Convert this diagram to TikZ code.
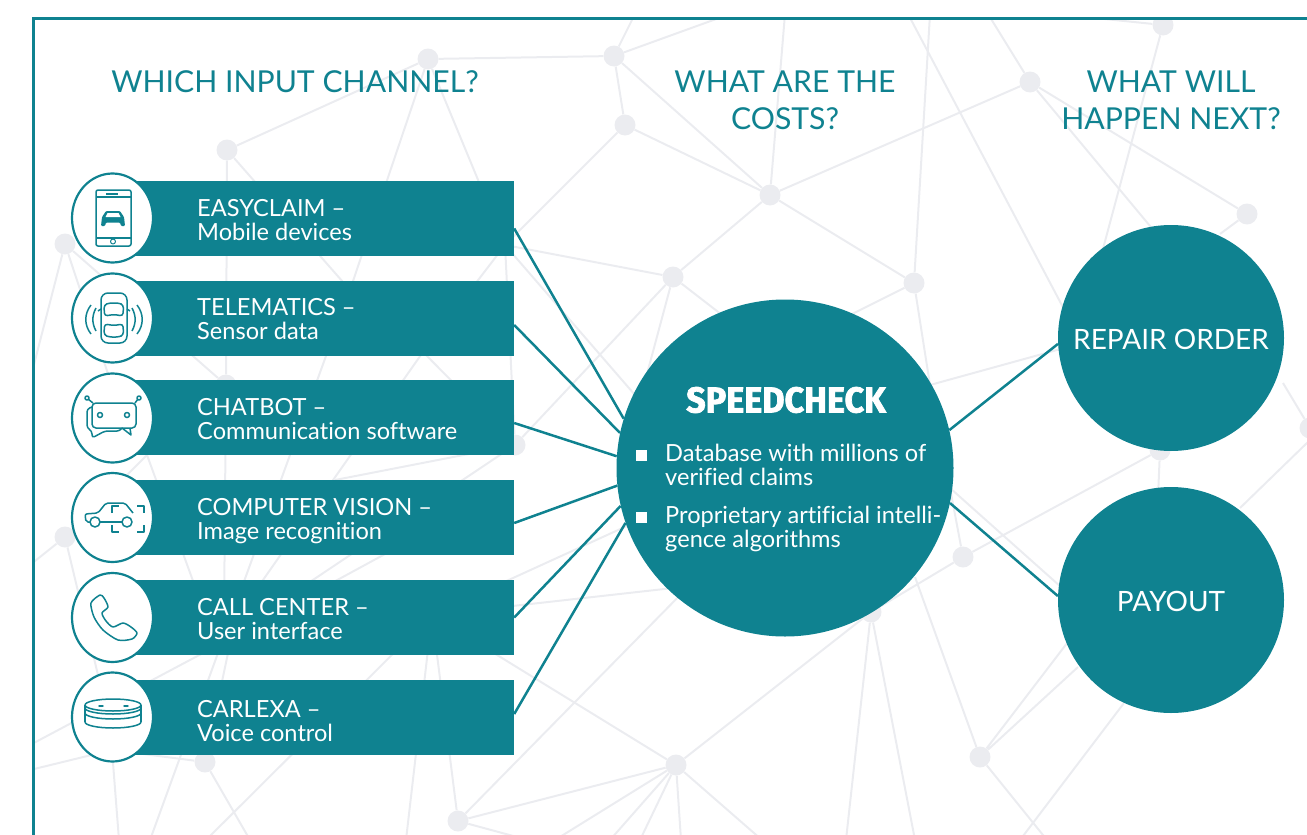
\documentclass[tikz,border=0pt]{standalone}
\usepackage{fontspec}
\setmainfont[Ligatures=NoCommon]{Lato}
\newfontfamily\speedfont[FakeStretch=0.95,FakeBold=2]{Fira Sans Bold}
\usetikzlibrary{shapes.geometric, positioning}
\definecolor{teal1}{HTML}{0F8290}
\definecolor{netgray}{HTML}{EBECF0}
\tikzset{
  net/.style={line width=2pt, color=netgray},
  netdot/.style={circle, fill=netgray, inner sep=0pt, minimum size=21pt},
  bar/.style={rectangle, fill=teal1, inner sep=0pt, minimum width=379pt, minimum height=75pt},
  badge/.style={ellipse, draw=teal1, line width=2.2pt, fill=white, inner sep=0pt, minimum width=81pt, minimum height=89pt},
  bigdot/.style={circle, fill=teal1, inner sep=0pt, minimum size=226pt},
  link/.style={line width=2.5pt, color=teal1},
  head/.style={text=teal1, align=center, font=\fontsize{30.2}{37}\selectfont, inner sep=0pt},
  rowtext/.style={text=white, align=left, anchor=west, font=\fontsize{23.6}{24}\selectfont, inner sep=0pt},
  bigtext/.style={text=white, inner sep=0pt, font=\fontsize{28}{30}\selectfont},
  icon/.style={line width=1.5pt, color=teal1, line join=round},
  square/.style={rectangle, fill=white, inner sep=0pt, minimum size=11pt},
}
\begin{document}
\begin{tikzpicture}[x=1pt, y=-1pt]
  \useasboundingbox (0,0) rectangle (1307,835);

  % background net
  \begin{scope}
    \clip (33,18) rectangle (1307,835);
    \node[netdot] (na) at (428,59) {};
    \node[netdot] (nb) at (614,56) {};
    \node[netdot] (nc) at (625,125) {};
    \node[netdot] (nd) at (770,195) {};
    \node[netdot] (ne) at (1030,82) {};
    \node[netdot] (nf) at (1163,25) {};
    \node[netdot] (ng) at (1247,214) {};
    \node[netdot] (nh) at (227,150) {};
    \node[netdot] (ni) at (65,244) {};
    \node[netdot] (nj) at (673,277) {};
    \node[netdot] (nk) at (914,283) {};
    \node[netdot] (nl) at (963,557) {};
    \node[netdot] (nm) at (980,757) {};
    \node[netdot] (nn) at (676,765) {};
    \node[netdot] (no) at (458,821) {};
    \node[netdot] (np) at (205,762) {};
    \node[netdot] (nq) at (65,537) {};
    \node[netdot] (nr) at (226,385) {};
    \node[netdot] (ns) at (1160,450) {};
    \node[netdot] (nt) at (871,612) {};
    \node[netdot] (nu) at (515,445) {};
    \node[netdot] (nx) at (1310,428) {};
    % hidden joints, behind the bars and circles
    \coordinate (jv) at (505,245);
    \coordinate (jw) at (350,290);
    \coordinate (jk) at (423,352);
    \coordinate (jm) at (305,520);
    \coordinate (jn) at (235,620);
    \coordinate (jq) at (335,480);
    \coordinate (js) at (205,652);
    \coordinate (jt) at (147,455);
    \coordinate (ju) at (200,600);
    \coordinate (jy) at (432,615);
    \coordinate (jz) at (930,385);
    \coordinate (jx) at (112,750);
    \coordinate (jc) at (700,470);
    \coordinate (jd) at (420,535);
    \coordinate (je) at (1100,260);
    \coordinate (jf) at (1170,250);
    \coordinate (jg) at (1075,330);
    \coordinate (ji) at (700,585);
    \coordinate (jj) at (640,400);
    \coordinate (jl) at (735,325);
    \coordinate (jo) at (640,520);
    \coordinate (jp) at (115,395);
    \coordinate (jr) at (224,620);
    \coordinate (js1) at (98,675);
    \coordinate (jk1) at (830,325);
    \coordinate (jo1) at (690,585);
    \coordinate (jm1) at (1078,667);
    \coordinate (jm2) at (1100,600);
    \coordinate (jm4) at (1240,508);
    \coordinate (jb) at (915,577);
    \coordinate (js2) at (1157,520);
    \coordinate (jg1) at (1220,234);
    \coordinate (jg2) at (1283,383);
    \coordinate (jz1) at (1075,345);
    \coordinate (jz2) at (1070,595);
    \coordinate (jh1) at (950,488);
    % free ends, past the frame
    \coordinate (ea) at (635,14);
    \coordinate (eb) at (730,14);
    \coordinate (ec) at (785,14);
    \coordinate (ed) at (930,14);
    \coordinate (ee) at (908,14);
    \coordinate (ef) at (988,14);
    \coordinate (eg) at (1095,18);
    \coordinate (eh) at (30,380);
    \coordinate (ei) at (30,565);
    \coordinate (ej) at (30,745);
    \coordinate (ek) at (30,770);
    \coordinate (el) at (119,840);
    \coordinate (em) at (150,840);
    \coordinate (en) at (206,840);
    \coordinate (eo) at (250,840);
    \coordinate (ep) at (406,840);
    \coordinate (eq) at (528,840);
    \coordinate (er) at (555,840);
    \coordinate (es) at (610,840);
    \coordinate (et) at (640,840);
    \coordinate (eu) at (681,840);
    \coordinate (ev) at (762,840);
    \coordinate (ew) at (846,840);
    \coordinate (ex) at (915,840);
    \coordinate (ey) at (1020,840);
    \coordinate (ez) at (1047,840);
    \coordinate (fa) at (1124,703);
    \coordinate (fb) at (1310,440);

    \draw[net] (na) -- (nb) (na) -- (nh) (na) -- (jw) (na) -- (jv);
    \draw[net] (nb) -- (ea) (nb) -- (eb) (nb) -- (nc) (nb) -- (nd);
    \draw[net] (nc) -- (nd) (nc) -- (jv);
    \draw[net] (nd) -- (ec) (nd) -- (ne) (nd) -- (nk) (nd) -- (nj);
    \draw[net] (ne) -- (ef) (ne) -- (ng) (ne) -- (jf);
    \draw[net] (nk) -- (ed) (nk) -- (jk1) (nk) -- (jz) (jz) -- (jz1);
    \draw[net] (ee) -- (jg);
    \draw[net] (nf) -- (eg) (nf) -- (je) (ng) -- (jg1);
    \draw[net] (nh) -- (nr) (nh) -- (jw);
    \draw[net] (jv) -- (nj) (jv) -- (jk) (jv) -- (nu) (jv) -- (jc);
    \draw[net] (nu) -- (nj) (nu) -- (jq) (nu) -- (js) (nu) -- (jk);
    \draw[net] (nj) -- (jj) (nj) -- (jl);
    \draw[net] (ni) -- (eh) (ni) -- (jp) (ni) -- (nr);
    \draw[net] (jw) -- (em);
    \draw[net] (jk) -- (jm) (jm) -- (jn) (jn) -- (np);
    \draw[net] (jd) -- (js) (js) -- (ej);
    \draw[net] (nr) -- (jr);
    \draw[net] (jt) -- (nq) (jt) -- (ju);
    \draw[net] (nq) -- (ei) (nq) -- (js1);
    \draw[net] (jy) -- (no) (jy) -- (ep) (jy) -- (en) (jy) -- (nn) (jy) -- (ji) (jy) -- (jo);
    \draw[net] (np) -- (jx) (np) -- (eo) (jx) -- (ek) (jx) -- (el);
    \draw[net] (no) -- (nn) (no) -- (eq) (no) -- (jo1);
    \draw[net] (nn) -- (er) (nn) -- (es) (nn) -- (et) (nn) -- (eu) (nn) -- (ev) (nn) -- (nt);
    \draw[net] (nt) -- (ew) (nt) -- (ex) (nt) -- (nl);
    \draw[net] (nl) -- (ns) (nl) -- (jh1) (jh1) -- (jz2);
    \draw[net] (nm) -- (jb) (nm) -- (jm1) (nm) -- (jm2) (nm) -- (ez);
    \draw[net] (fa) -- (ey);
    \draw[net] (ns) -- (js2) (jg2) -- (nx) (fb) -- (jm4);
  \end{scope}

  % frame
  \draw[line width=3pt, color=teal1] (1307,18) -- (33,18) -- (33,835);

  % headings
  \node[head] (whichhead) at (295,82) {WHICH INPUT CHANNEL?};
  \node[head] (costhead) at (785,100) {WHAT ARE THE\\COSTS?};
  \node[head] (nexthead) at (1171,100) {WHAT WILL\\HAPPEN NEXT?};

  % circles on the right
  \node[circle, fill=teal1, inner sep=0pt, minimum size=337pt] (speed) at (785,468) {};
  \node[bigdot] (repair) at (1171,338) {};
  \node[bigdot] (payout) at (1171,600) {};

  % input rows
  \node[bar] (easy) at (324.5,218.5) {};
  \node[bar] (tele) at (324.5,318.5) {};
  \node[bar] (chat) at (324.5,417.5) {};
  \node[bar] (vision) at (324.5,517.5) {};
  \node[bar] (call) at (324.5,617.5) {};
  \node[bar] (carlexa) at (324.5,717.5) {};

  % connectors
  \draw[link] ([yshift=-10pt]easy.east) -- (speed.163.6);
  \draw[link] ([yshift=-6.5pt]tele.east) -- (speed.168);
  \draw[link] ([yshift=-5.5pt]chat.east) -- (speed.176.6);
  \draw[link] ([yshift=-5.5pt]vision.east) -- (speed.186);
  \draw[link] (call.east) -- (speed.193.6);
  \draw[link] ([yshift=3.5pt]carlexa.east) -- (speed.199.6);
  \draw[link] (speed.13) -- (repair.183.5);
  \draw[link] (speed.-12.6) -- (payout.178.5);

  \node[badge] (easyb) at (112.5,218) {};
  \node[badge] (teleb) at (112.5,318) {};
  \node[badge] (chatb) at (112.5,418) {};
  \node[badge] (visionb) at (112.5,517.5) {};
  \node[badge] (callb) at (112.5,617.5) {};
  \node[badge] (carlexab) at (112.5,717) {};

  \node[rowtext] (easyt) at (197,220) {EASYCLAIM --\\Mobile devices};
  \node[rowtext] (telet) at (197,319) {TELEMATICS --\\Sensor data};
  \node[rowtext] (chatt) at (197,419) {CHATBOT --\\Communication software};
  \node[rowtext] (visiont) at (197,521) {COMPUTER VISION --\\Image recognition};
  \node[rowtext] (callt) at (197,619) {CALL CENTER --\\User interface};
  \node[rowtext] (carlexat) at (197,721) {CARLEXA --\\Voice control};

  % speedcheck text
  \node[text=white, inner sep=0pt, font=\speedfont\fontsize{36}{36}\selectfont] (speedt) at (786,400) {SPEEDCHECK};
  \node[square] (sq1) at (641,455) {};
  \node[square] (sq2) at (641,517) {};
  \node[rowtext] (db) at (665,465) {Database with millions of\\verified claims};
  \node[rowtext] (ai) at (665,529) {Proprietary artificial intelli-\\gence algorithms};

  \node[bigtext] (repairt) at (1171,339.5) {REPAIR ORDER};
  \node[bigtext] (payoutt) at (1171,601.5) {PAYOUT};

  % icon: phone with car
  \draw[icon, rounded corners=2pt] (96,190) rectangle (131,246);
  \draw[icon] (96,197) -- (131,197) (96,238) -- (131,238);
  \draw[icon] (106,194) -- (118,194);
  \draw[icon, line width=1pt] (113,241.5) circle (2.5);
  \fill[teal1, rounded corners=1pt] (102,217) -- (106,211) -- (120,211) -- (124,217) -- (125,226) -- (121,226) -- (120,222.5) -- (106,222.5) -- (105,226) -- (101,226) -- cycle;
  \fill[white] (105.5,217) -- (107.5,213) -- (118.5,213) -- (120.5,217) -- cycle;

  % icon: car with sensor waves
  \draw[icon, rounded corners=7pt] (101,293) rectangle (127,343);
  \draw[icon, rounded corners=3pt] (104.5,316) -- (104,305) -- (109,303) -- (119,303) -- (123.5,305) -- (123,316) -- (114,314.5) -- cycle;
  \draw[icon, rounded corners=3pt] (104.5,324) -- (104,335) -- (109,337) -- (119,337) -- (123.5,335) -- (123,324) -- (114,325.5) -- cycle;
  \draw[icon] (101,309) -- (98,311) (127,309) -- (130,311);
  \draw[icon] (96,308) to[bend right=28] (96,331);
  \draw[icon] (91,305) to[bend right=38] (91,334);
  \draw[icon] (132,308) to[bend left=28] (132,331);
  \draw[icon] (137,305) to[bend left=38] (137,334);

  % icon: chatbot
  \draw[icon, rounded corners=4pt] (92,403) rectangle (136,428);
  \draw[icon, rounded corners=3pt] (92,407) -- (87,409) -- (87,428) -- (92,431) -- (92,438) -- (105,431) -- (120,431) -- (122,428);
  \draw[icon] (122,428) -- (131,435) -- (130,428);
  \draw[icon] (100,415) circle (2.5) (127,415) circle (2.5);
  \draw[icon] (93,403) -- (88,399) (135,403) -- (138,399);
  \draw[icon] (87,398) circle (2) (139,398) circle (2);

  % icon: car in a viewfinder
  \draw[icon, rounded corners=2pt] (90,522) -- (86,522) -- (85,514) -- (98,513) -- (106,503) -- (125,503) -- (133,513);
  \draw[icon] (100,522) -- (122,522);
  \draw[icon] (95,522) circle (5) (127,522) circle (5);
  \draw[icon] (112,513) -- (112,506) -- (119,506);
  \draw[icon] (137,506) -- (144,506) -- (144,513);
  \draw[icon] (112,525) -- (112,532) -- (119,532);
  \draw[icon] (137,532) -- (144,532) -- (144,525);

  % icon: handset
  \draw[icon] plot[smooth cycle, tension=0.45] coordinates {(91,603) (100,595) (104,598) (108,607) (102,613) (106,621) (113,627) (123,623) (131,627) (137,633) (132,639) (118,640) (103,630) (94,617)};

  % icon: smart speaker
  \draw[icon] (113,705) ellipse (28 and 6);
  \draw[icon] (85,705) -- (85,722) (141,705) -- (141,722);
  \draw[icon] (85,708) arc[start angle=180, end angle=0, x radius=28, y radius=6];
  \draw[icon] (85,713) arc[start angle=180, end angle=0, x radius=28, y radius=6];
  \draw[icon] (85,722) arc[start angle=180, end angle=0, x radius=28, y radius=6];
  \fill[teal1] (101,706) ellipse (3 and 1) (126,706) ellipse (3 and 1);
\end{tikzpicture}
\end{document}
